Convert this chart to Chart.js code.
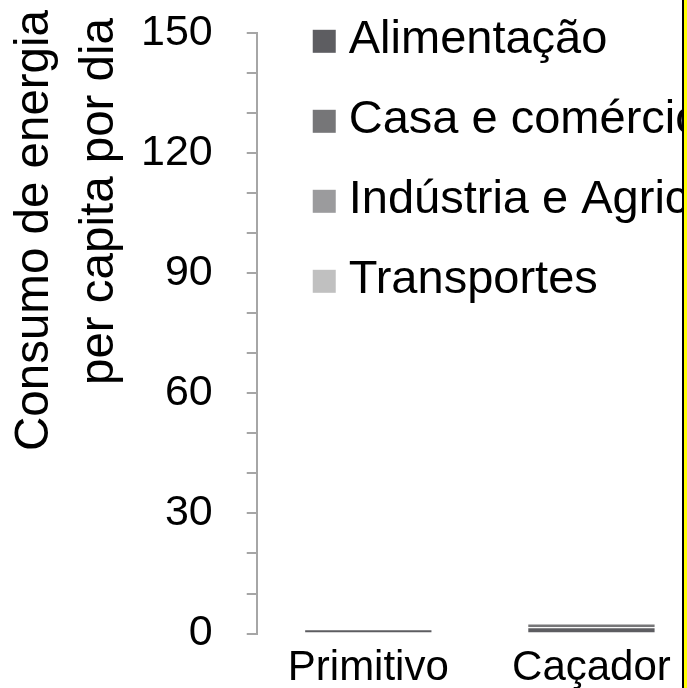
<!DOCTYPE html>
<html>
<head>
<meta charset="utf-8">
<script src="https://cdn.jsdelivr.net/npm/chart.js@4"></script>
<style>
html, body { margin: 0; padding: 0; background: #ffff00; overflow: hidden; }
#frame { width: 682px; height: 688px; overflow: hidden; background: #fff; border-right: 2px solid #000; }
#box { width: 720px; height: 732px; margin-top: -27px; position: relative; }
</style>
</head>
<body>
<div id="frame"><div id="box"><canvas id="charts"></canvas></div></div>
<script>
var labels = ['Primitivo', 'Caçador'];
var seriesNames = ['Alimentação', 'Casa e comércio', 'Indústria e Agricultura', 'Transportes'];
var alimentacao = [1.1, 1.6];
var casaComercio = [0, 0.9];
var industriaAgricultura = [0, 0];
var transportes = [0, 0];
var yTicks = [0, 30, 60, 90, 120, 150];
var yTitle = ['Consumo de energia', 'per capita por dia'];

var colors = ['#5d5d61', '#767678', '#9b9b9d', '#c0c0c0'];
var FONT = '"Liberation Sans", Arial, sans-serif';

// legend drawn as a vertical list inside the plot area
var legendList = {
    id: 'legendList',
    afterDraw: function (chart) {
        var ctx = chart.ctx;
        var x = chart.chartArea.left + 56;
        ctx.save();
        ctx.font = '47px ' + FONT;
        ctx.textBaseline = 'alphabetic';
        ctx.textAlign = 'left';
        chart.data.datasets.forEach(function (ds, i) {
            var base = chart.chartArea.top + 20 + i * 80;
            ctx.fillStyle = ds.backgroundColor;
            ctx.fillRect(x, base - 23, 23, 23);
            ctx.fillStyle = '#000';
            ctx.fillText(ds.label, x + 36, base);
        });
        ctx.restore();
    }
};

// two-line rotated y axis title (canvas sits 27px above the page top)
var axisTitle = {
    id: 'axisTitle',
    afterDraw: function (chart) {
        var ctx = chart.ctx;
        ctx.save();
        ctx.font = '47.5px ' + FONT;
        ctx.fillStyle = '#000';
        ctx.textAlign = 'right';
        ctx.textBaseline = 'alphabetic';
        var ends = [37, 45];
        var bases = [48, 113];
        yTitle.forEach(function (line, i) {
            ctx.save();
            ctx.translate(bases[i], ends[i]);
            ctx.rotate(-Math.PI / 2);
            ctx.fillText(line, 0, 0);
            ctx.restore();
        });
        ctx.restore();
    }
};

var series = [alimentacao, casaComercio, industriaAgricultura, transportes];

var ctx = document.getElementById('charts');
new Chart(ctx, {
    type: 'bar',
    data: {
        labels: labels,
        datasets: series.map(function (values, i) {
            return {
                label: seriesNames[i],
                data: values,
                backgroundColor: colors[i],
                borderColor: 'rgba(255,255,255,0.45)',
                borderWidth: 1,
                categoryPercentage: 1,
                barPercentage: 0.575
            };
        })
    },
    options: {
        responsive: true,
        maintainAspectRatio: false,
        animation: false,
        layout: { padding: { left: 107, right: 17, top: 6, bottom: 9 } },
        plugins: {
            legend: { display: false },
            tooltip: { enabled: false }
        },
        scales: {
            x: {
                stacked: true,
                grid: { display: false },
                border: { display: false },
                ticks: { color: '#000', font: { family: FONT, size: 42 }, padding: 2 }
            },
            y: {
                stacked: true,
                min: 0,
                max: 150,
                border: { color: '#a6a6a6', width: 2 },
                grid: { drawOnChartArea: false, tickLength: 10, color: '#a6a6a6', lineWidth: 2 },
                ticks: {
                    stepSize: 10,
                    autoSkip: false,
                    color: '#000',
                    padding: 34,
                    font: { family: FONT, size: 43 },
                    callback: function (v) { return yTicks.indexOf(v) >= 0 ? String(v) : ''; }
                }
            }
        }
    },
    plugins: [legendList, axisTitle]
});
</script>
</body>
</html>
